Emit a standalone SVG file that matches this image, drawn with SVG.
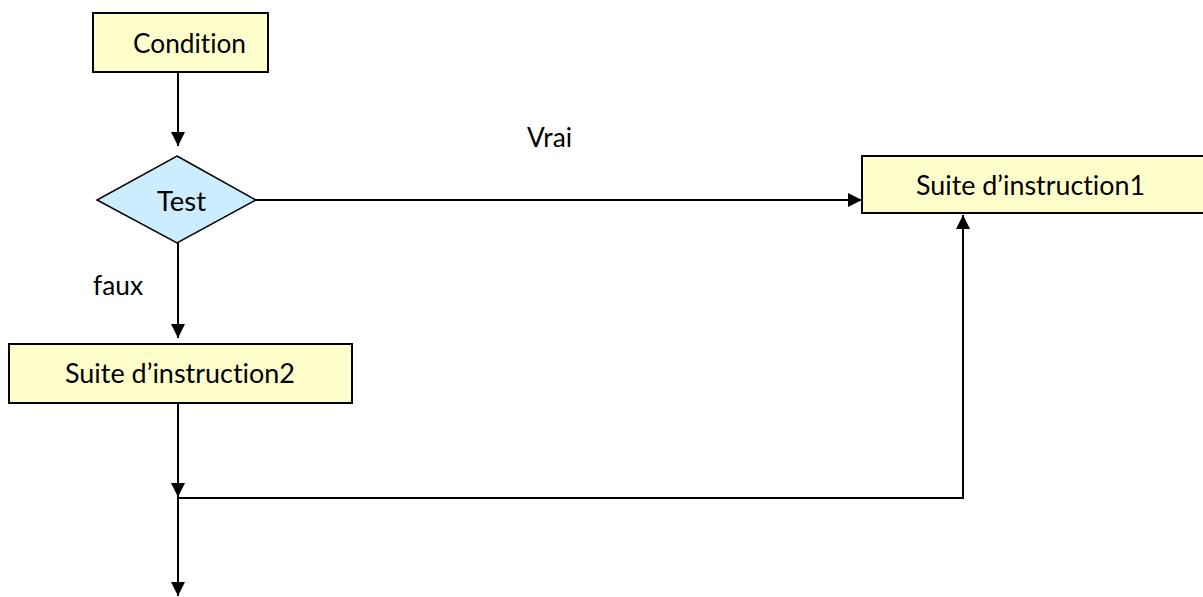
<svg xmlns="http://www.w3.org/2000/svg" width="1203" height="597" viewBox="0 0 1203 597">
<style>
.box{fill:#FFFFCC;stroke:#000;stroke-width:2}
.dia{fill:#CCECFF;stroke:#000;stroke-width:1.5}
.t{font-family:Lato,"Liberation Sans",sans-serif;font-size:26px;fill:#000;font-variant-ligatures:none;font-feature-settings:"liga" 0}
.c{fill:none;stroke:#000;stroke-width:2}
</style>
<defs>
<marker id="ah" viewBox="0 0 14 14" refX="14" refY="7" markerWidth="14" markerHeight="14" markerUnits="userSpaceOnUse" orient="auto">
<path d="M0,0 L14,7 L0,14 Z" fill="#000"/>
</marker>
</defs>
<rect width="1203" height="597" fill="#fff"/>
<g id="connectors">
<line class="c" x1="178" y1="72" x2="178" y2="146" marker-end="url(#ah)"/>
<line class="c" x1="256" y1="200" x2="862" y2="200" marker-end="url(#ah)"/>
<line class="c" x1="178" y1="243" x2="178" y2="338" marker-end="url(#ah)"/>
<line class="c" x1="178" y1="403" x2="178" y2="497" marker-end="url(#ah)"/>
<line class="c" x1="178" y1="497" x2="178" y2="596" marker-end="url(#ah)"/>
<polyline class="c" points="178,498 963,498 963,215" marker-end="url(#ah)"/>
</g>
<g id="condition">
<rect class="box" x="93" y="13" width="175" height="59"/>
<text class="t" x="133" y="53" textLength="113" lengthAdjust="spacingAndGlyphs">Condition</text>
</g>
<g id="test">
<polygon class="dia" points="177,156 256,200 177,243 97,200"/>
<text class="t" x="157" y="211" textLength="49" lengthAdjust="spacingAndGlyphs">Test</text>
</g>
<g id="suite1">
<rect class="box" x="862" y="156" width="345" height="57"/>
<text class="t" x="916" y="195" textLength="229" lengthAdjust="spacingAndGlyphs">Suite d’instruction1</text>
</g>
<g id="suite2">
<rect class="box" x="9" y="344" width="343" height="59"/>
<text class="t" x="65" y="383" textLength="230" lengthAdjust="spacingAndGlyphs">Suite d’instruction2</text>
</g>
<g id="labels">
<text class="t" x="527" y="147" textLength="45" lengthAdjust="spacingAndGlyphs">Vrai</text>
<text class="t" x="93" y="295" textLength="50" lengthAdjust="spacingAndGlyphs">faux</text>
</g>
</svg>
